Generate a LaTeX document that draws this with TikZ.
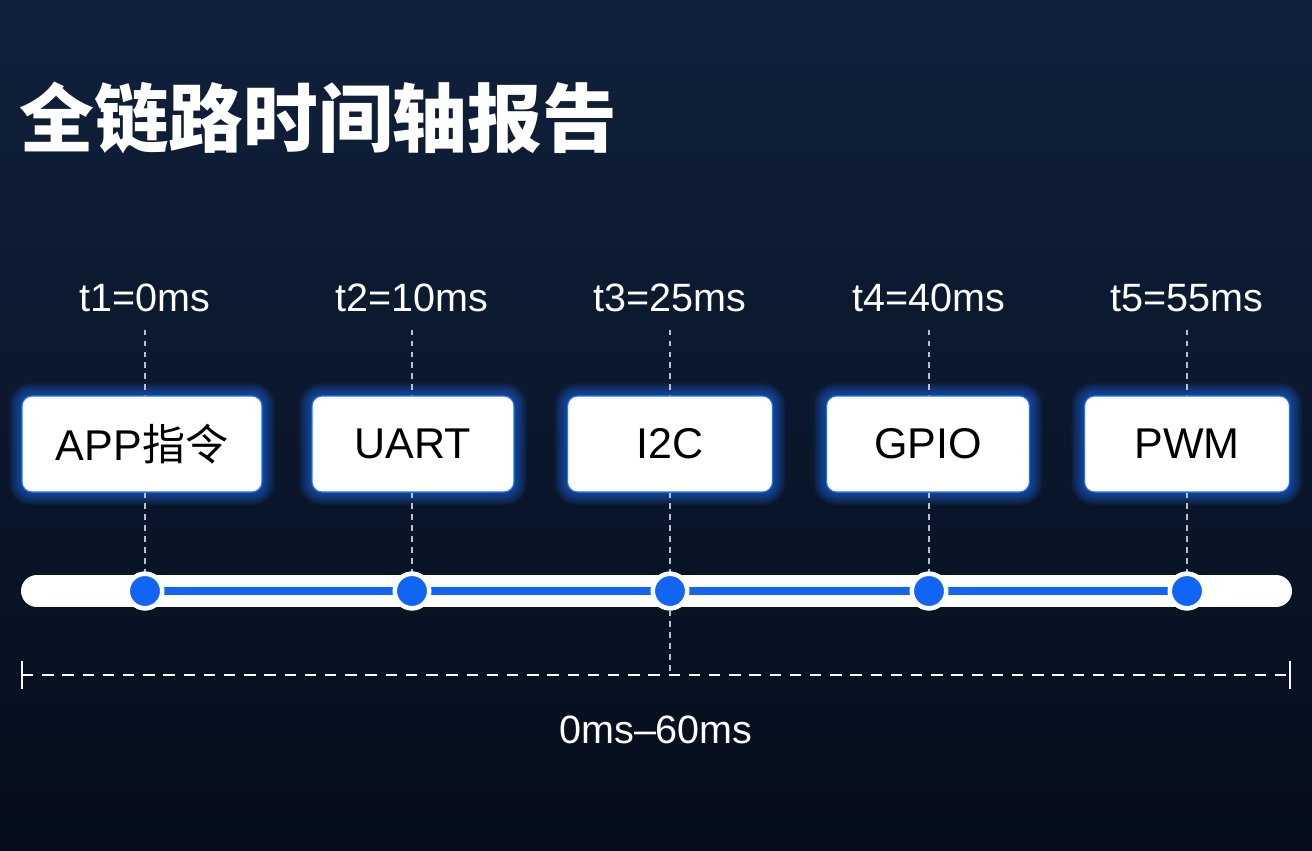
\documentclass[tikz,border=0pt]{standalone}
\usepackage{fontspec}
\setmainfont{Liberation Sans}
\newfontfamily\cjk{Noto Sans CJK SC}
\usepackage{tikz}
\usetikzlibrary{positioning,backgrounds,calc}
\usepackage{xcolor}
\definecolor{NavyTop}{RGB}{16,33,60}
\definecolor{NavyBottom}{RGB}{5,13,27}
\definecolor{TrackBlue}{RGB}{18,100,245}
\definecolor{GlowBlue}{RGB}{30,115,255}
\definecolor{GuideGray}{RGB}{185,192,206}

\begin{document}
\begin{tikzpicture}[
    x=0.02cm, y=-0.02cm,
    stage/.style={rectangle, fill=white, draw=GlowBlue, line width=0.6pt,
                  rounded corners=0.2cm, minimum height=1.92cm, inner sep=0pt,
                  font=\fontsize{24.5}{28}\selectfont},
    tlabel/.style={text=white, inner sep=0.36cm, anchor=base,
                   font=\fontsize{22.5}{26}\selectfont},
    guide/.style={GuideGray, line width=0.8pt, dash pattern=on 3.2pt off 3pt},
    dot/.style={circle, fill=TrackBlue, draw=white, line width=0.09cm,
                minimum size=0.69cm, inner sep=0pt},
    span/.style={white!90!GuideGray, line width=1.3pt, dash pattern=on 6.5pt off 5pt}
]
    \useasboundingbox (0,0) rectangle (1312,850);

    % title
    \node[anchor=west, text=white, inner sep=0pt, font=\cjk\bfseries\fontsize{42.5}{46}\selectfont]
        (title) at (19,118) {全链路时间轴报告};

    % time labels
    \node[tlabel] (t1) at (145,311) {t1=0ms};
    \node[tlabel] (t2) at (412,311) {t2=10ms};
    \node[tlabel] (t3) at (670,311) {t3=25ms};
    \node[tlabel] (t4) at (929,311) {t4=40ms};
    \node[tlabel] (t5) at (1187,311) {t5=55ms};

    % stages
    \node[stage, minimum width=4.8cm] (app)  at (142,444) {APP{\cjk 指令}};
    \node[stage, minimum width=4.04cm] (uart) at (413,444) {UART};
    \node[stage, minimum width=4.1cm] (i2c)  at (670,444) {I2C};
    \node[stage, minimum width=4.06cm] (gpio) at (928,444) {GPIO};
    \node[stage, minimum width=4.1cm] (pwm)  at (1187,444) {PWM};

    % track
    \coordinate (trackL) at (37,591);
    \coordinate (trackR) at (1276,591);
    \draw[white, line width=0.64cm, line cap=round] (trackL) -- (trackR);

    \node[dot] (d1) at (145,591) {};
    \node[dot] (d2) at (412,591) {};
    \node[dot] (d3) at (670,591) {};
    \node[dot] (d4) at (929,591) {};
    \node[dot] (d5) at (1187,591) {};

    % background, glow and guides
    \begin{scope}[on background layer]
        \shade[top color=NavyTop, bottom color=NavyBottom] (0,0) rectangle (1312,850);
        \foreach \b in {app,uart,i2c,gpio,pwm}
            \foreach \i in {1,...,9}
                \draw[GlowBlue, opacity=0.075, line width=\i*1.6pt, rounded corners=0.2cm]
                    (\b.south west) rectangle (\b.north east);
        \foreach \t/\b/\d in {t1/app/d1,t2/uart/d2,t3/i2c/d3,t4/gpio/d4,t5/pwm/d5} {
            \draw[guide] (\t.south) -- (\t.south |- \b.north);
            \draw[guide] (\d |- \b.south) -- (\d.north);
        }
    \end{scope}
    \draw[TrackBlue, line width=0.16cm] (d1.center) -- (d5.center);
    \foreach \d in {d1,d2,d3,d4,d5}
        \node[dot] at (\d) {};

    % overall span
    \coordinate (spanL) at (22,675);
    \coordinate (spanR) at (1290,675);
    \coordinate (spanM) at (670,675);
    \draw[span] (spanL) -- (spanR);
    \draw[white!90!GuideGray, line width=1.3pt] ($(spanL)+(0,-14)$) -- ($(spanL)+(0,14)$);
    \draw[white!90!GuideGray, line width=1.3pt] ($(spanR)+(0,-14)$) -- ($(spanR)+(0,14)$);
    \draw[guide] (d3.south) -- (spanM);
    \node[text=white, font=\fontsize{22.5}{26}\selectfont] (range) at (656,730) {0ms--60ms};
\end{tikzpicture}
\end{document}
